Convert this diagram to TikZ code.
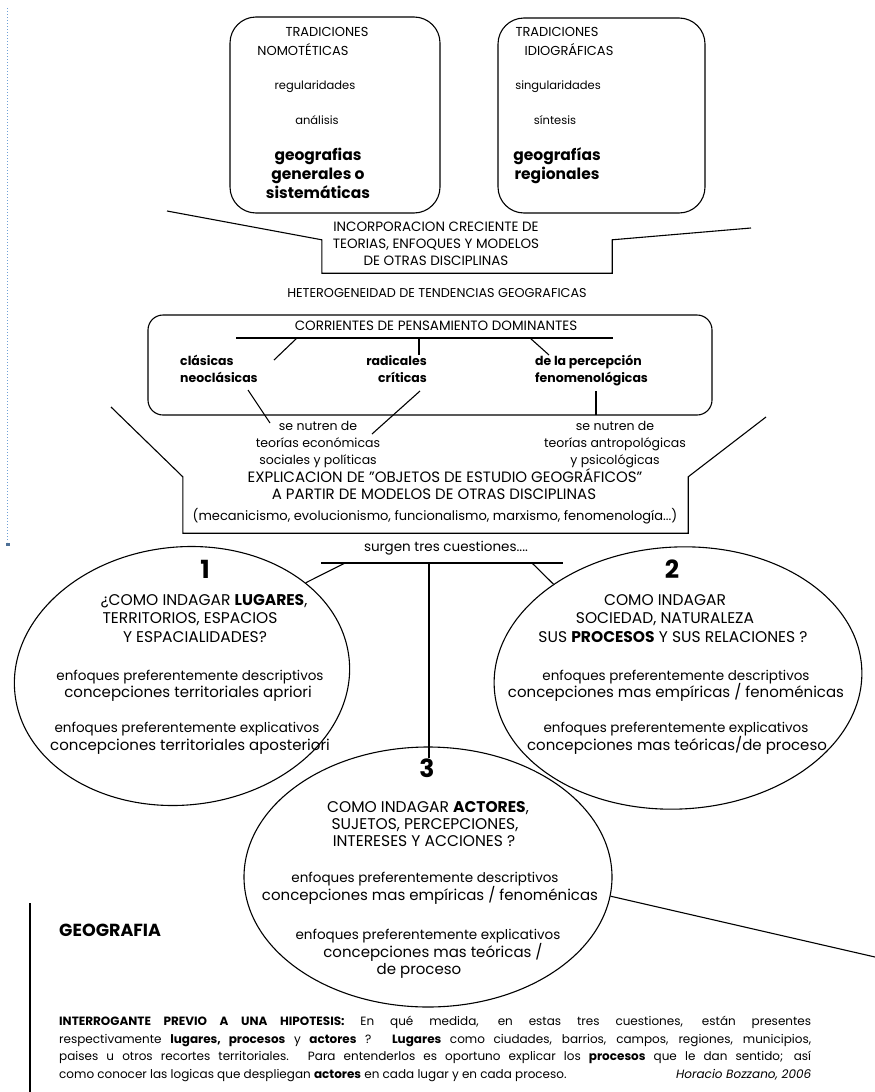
\documentclass[tikz,border=0pt]{standalone}
\usepackage{fontspec}
\setmainfont{Poppins}
\usetikzlibrary{shapes.geometric}
\definecolor{blueline}{RGB}{110,160,215}
\newcommand\fsz[2]{\fontsize{#1}{#2}\selectfont}
\begin{document}
\begin{tikzpicture}[x=1pt,y=-1pt,
  lw/.style={line width=1.1pt},
  tbox/.style={draw, lw, rounded corners=26pt, inner sep=0},
  cbox/.style={draw, lw, rounded corners=15pt, inner sep=0},
  oval/.style={draw, lw, ellipse, inner sep=0},
  brk/.style={inner sep=0},
  tA/.style={inner sep=0, font=\fsz{13}{16}},
  tS/.style={inner sep=0, font=\fsz{11.5}{14}},
  tB/.style={inner sep=0, align=center, font=\bfseries\fsz{15.5}{19}},
  tInc/.style={inner sep=0, align=center, font=\fsz{13.5}{17}},
  tHet/.style={inner sep=0, font=\fsz{12.8}{17}},
  tBs/.style={inner sep=0, font=\bfseries\fsz{12.5}{17}},
  tN/.style={inner sep=0, align=center, font=\fsz{12.5}{17}},
  tExp/.style={inner sep=0, font=\fsz{15}{17}},
  tP/.style={inner sep=0, font=\fsz{13}{17}},
  tSur/.style={inner sep=0, font=\fsz{13.5}{17}},
  tNum/.style={inner sep=0, font=\bfseries\fsz{25}{27}},
  tQ/.style={inner sep=0, font=\fsz{15.5}{18}},
  tE/.style={inner sep=0, font=\fsz{13.5}{15}},
  tC/.style={inner sep=0, font=\fsz{15}{17}},
  tGeo/.style={inner sep=0, font=\bfseries\fsz{17.5}{19}},
  tPar/.style={inner sep=0, font=\fsz{12}{17.7}, text width=752pt, align=justify}
]
\useasboundingbox (0,0) rectangle (875,1092);

% blue dotted margin mark
\coordinate (bl1) at (7,8); \coordinate (bl2) at (7,542);
\draw[blueline, dotted, line width=1pt] (bl1) -- (bl2);
\fill[blueline!70!black] (6,543) rectangle (10,546);

% top boxes
\node[tbox, minimum width=210pt, minimum height=196pt] (tn) at (335,115) {};
\node[tbox, minimum width=207pt, minimum height=195pt] (ti) at (601.5,115.5) {};
\node[tA, anchor=mid] (tn1) at (327,34) {TRADICIONES};
\node[tA, anchor=mid] (tn2) at (303,53) {NOMOTÉTICAS};
\node[tS, anchor=mid] (tn3) at (315,87) {regularidades};
\node[tS, anchor=mid] (tn4) at (317,122) {análisis};
\node[tB, anchor=mid] (tn5) at (318,196) {geografias\\generales o\\sistemáticas};
\node[tA, anchor=mid] (ti1) at (557,34) {TRADICIONES};
\node[tA, anchor=mid] (ti2) at (569,53) {IDIOGRÁFICAS};
\node[tS, anchor=mid] (ti3) at (558,87) {singularidades};
\node[tS, anchor=mid] (ti4) at (555,122) {síntesis};
\node[tB, anchor=mid] (ti5) at (557,177) {geografías\\regionales};

% incorporation bracket
\node[brk, minimum width=290pt, minimum height=33pt] (incb) at (467,256.5) {};
\coordinate (w1) at (167,211); \coordinate (w2) at (751,228);
\draw[lw] (w1) -- (incb.north west) -- (incb.south west) -- (incb.south east) -- (incb.north east) -- (w2);
\node[tInc, anchor=mid] (inc) at (436,263) {INCORPORACION CRECIENTE DE\\TEORIAS, ENFOQUES Y MODELOS\\DE OTRAS DISCIPLINAS};
\node[tHet, anchor=mid] (het) at (437,295) {HETEROGENEIDAD DE TENDENCIAS GEOGRAFICAS};

% corrientes
\node[cbox, minimum width=564pt, minimum height=100pt] (corr) at (430,365) {};
\node[tInc, anchor=mid] (cor) at (436,328) {CORRIENTES DE PENSAMIENTO DOMINANTES};
\coordinate (hl) at (236,338); \coordinate (hr) at (613,338);
\draw[lw] (hl) -- (hr);
\node[tBs, align=left, anchor=mid west] (cla) at (180,380) {clásicas\\neoclásicas};
\node[tBs, align=right, anchor=mid east] (rad) at (427,380) {radicales\\críticas};
\node[tBs, align=left, anchor=mid west] (per) at (535,380) {de la percepción\\fenomenológicas};
\coordinate (b1a) at (297,338); \coordinate (b1b) at (274,360);
\coordinate (b2a) at (419,338); \coordinate (b2b) at (419,355);
\coordinate (b3a) at (530,338); \coordinate (b3b) at (549,355);
\draw[lw] (b1a) -- (b1b); \draw[lw] (b2a) -- (b2b); \draw[lw] (b3a) -- (b3b);
\coordinate (n1a) at (248,390); \coordinate (n1b) at (270,423);
\coordinate (n2a) at (420,391); \coordinate (n2b) at (372,434);
\coordinate (n3a) at (596,391); \coordinate (n3b) at (596,415);
\draw[lw] (n1a) -- (n1b); \draw[lw] (n2a) -- (n2b); \draw[lw] (n3a) -- (n3b);
\node[tN, anchor=mid] (nut1) at (318,462) {se nutren de\\teorías económicas\\sociales y políticas};
\node[tN, anchor=mid] (nut2) at (615,462) {se nutren de\\teorías antropológicas\\y psicológicas};

% explicacion bracket
\node[brk, minimum width=505pt, minimum height=56pt] (expb) at (435.5,505) {};
\coordinate (w3) at (111,407); \coordinate (w4) at (766,417);
\draw[lw] (w3) -- (expb.north west) -- (expb.south west) -- (expb.south east) -- (expb.north east) -- (w4);
\node[tExp, anchor=mid] (exp1) at (445,480) {EXPLICACION DE "OBJETOS DE ESTUDIO GEOGRÁFICOS"};
\node[tExp, anchor=mid] (exp2) at (434,497) {A PARTIR DE MODELOS DE OTRAS DISCIPLINAS};
\node[tP, anchor=mid] (exp3) at (435,518) {(mecanicismo, evolucionismo, funcionalismo, marxismo, fenomenología...)};
\node[tSur, anchor=mid] (sur) at (446,549) {surgen tres cuestiones....};

% ovals
\node[oval, minimum width=336pt, minimum height=258pt, rotate=6] (c1) at (182,676) {};
\node[oval, minimum width=368pt, minimum height=262pt, rotate=3] (c2) at (678,678) {};
\node[oval, minimum width=368pt, minimum height=260pt] (c3) at (428,877) {};

\coordinate (sl) at (321,563); \coordinate (sr) at (563,563);
\coordinate (sm) at (429,563); \coordinate (sv) at (429,758);
\coordinate (s1) at (345,563); \coordinate (s2) at (532,563);
\draw[lw] (sl) -- (sr); \draw[lw] (sm) -- (sv);
\draw[lw] (s1) -- (c1.31); \draw[lw] (s2) -- (c2.140);

% circle 1 texts
\node[tNum, anchor=mid] (n1) at (205,576) {1};
\node[tQ, anchor=mid] (q1a) at (204,603) {¿COMO INDAGAR \textbf{LUGARES},};
\node[tQ, anchor=mid] (q1b) at (190,621) {TERRITORIOS, ESPACIOS};
\node[tQ, anchor=mid] (q1c) at (195,640) {Y ESPACIALIDADES?};
\node[tE, anchor=mid] (e1a) at (190,678) {enfoques preferentemente descriptivos};
\node[tC, anchor=mid] (e1b) at (188,695) {concepciones territoriales apriori};
\node[tE, anchor=mid] (e1c) at (187,730) {enfoques preferentemente explicativos};
\node[tC, anchor=mid] (e1d) at (190,748) {concepciones territoriales aposteriori};

% circle 2 texts
\node[tNum, anchor=mid] (n2) at (672,576) {2};
\node[tQ, anchor=mid] (q2a) at (665,603) {COMO INDAGAR};
\node[tQ, anchor=mid] (q2b) at (665,621) {SOCIEDAD, NATURALEZA};
\node[tQ, anchor=mid] (q2c) at (673,640) {SUS \textbf{PROCESOS} Y SUS RELACIONES ?};
\node[tE, anchor=mid] (e2a) at (676,678) {enfoques preferentemente descriptivos};
\node[tC, anchor=mid] (e2b) at (676,695) {concepciones mas empíricas / fenoménicas};
\node[tE, anchor=mid] (e2c) at (676,730) {enfoques preferentemente explicativos};
\node[tC, anchor=mid] (e2d) at (677,748) {concepciones mas teóricas/de proceso};

% circle 3 texts
\node[tNum, anchor=mid] (n3) at (427,775) {3};
\node[tQ, anchor=mid] (q3a) at (428,810) {COMO INDAGAR \textbf{ACTORES},};
\node[tQ, anchor=mid] (q3b) at (425,827) {SUJETOS, PERCEPCIONES,};
\node[tQ, anchor=mid] (q3c) at (424,844) {INTERESES Y ACCIONES ?};
\node[tE, anchor=mid] (e3a) at (425,880) {enfoques preferentemente descriptivos};
\node[tC, anchor=mid] (e3b) at (430,898) {concepciones mas empíricas / fenoménicas};
\node[tE, anchor=mid] (e3c) at (428,937) {enfoques preferentemente explicativos};
\node[tC, anchor=mid] (e3d) at (433,955) {concepciones mas teóricas /};
\node[tC, anchor=mid] (e3e) at (419,972) {de proceso};

% bottom
\coordinate (vl1) at (30,903); \coordinate (vl2) at (30,1092);
\draw[lw] (vl1) -- (vl2);
\node[tGeo, anchor=mid west] (geo) at (59,934) {GEOGRAFIA};
\coordinate (le) at (875,957);
\draw[lw] (c3.-6) -- (le);
\node[tPar, anchor=north west] (par) at (59,1016) {\textbf{INTERROGANTE PREVIO A UNA HIPOTESIS:} En qué medida, en estas tres cuestiones, están presentes\linebreak
respectivamente \textbf{lugares, procesos} y \textbf{actores} ? \textbf{Lugares} como ciudades, barrios, campos, regiones, municipios,\linebreak
paises u otros recortes territoriales. Para entenderlos es oportuno explicar los \textbf{procesos} que le dan sentido; así\linebreak
como conocer las logicas que despliegan \textbf{actores} en cada lugar y en cada proceso.\hfill\textit{Horacio Bozzano, 2006}};
\end{tikzpicture}
\end{document}
